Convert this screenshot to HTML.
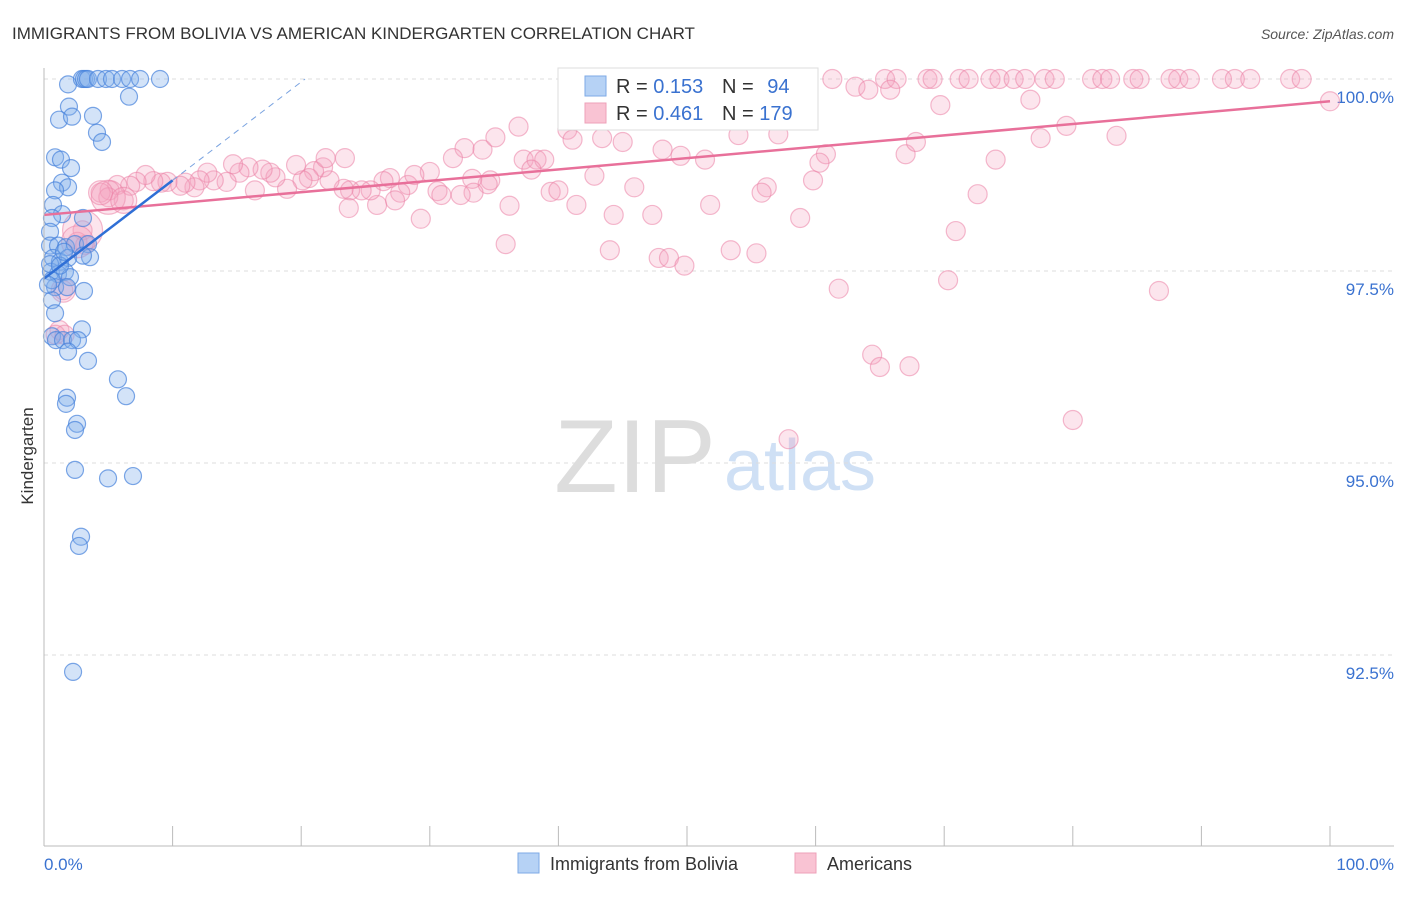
<!DOCTYPE html>
<html><head><meta charset="utf-8"><style>
body{margin:0;background:#fff;font-family:"Liberation Sans",sans-serif;}
svg text{font-family:"Liberation Sans",sans-serif;}
</style></head><body>
<svg id="chart" width="1406" height="892" viewBox="0 0 1406 892">
<text x="12" y="39" font-size="17" fill="#333">IMMIGRANTS FROM BOLIVIA VS AMERICAN KINDERGARTEN CORRELATION CHART</text>
<text x="1394" y="39" font-size="14" fill="#555" font-style="italic" text-anchor="end">Source: ZipAtlas.com</text>
<text x="33" y="456" font-size="17" fill="#333" transform="rotate(-90 33 456)" text-anchor="middle">Kindergarten</text>
<g>
<text x="635" y="492" font-size="104" fill="#ddd" font-family="Liberation Serif,serif" text-anchor="middle">ZIP</text>
<text x="800" y="490" font-size="72" fill="#cfe0f5" text-anchor="middle">atlas</text>
</g>
<g id="grid"></g>
<g id="pts"></g>
<g id="lines"></g>
<line x1="44" y1="68" x2="44" y2="846" stroke="#bbb"/>
<line x1="44" y1="846" x2="1394" y2="846" stroke="#bbb"/>
<g id="ticks"></g>
<text x="44" y="870" font-size="17" fill="#3a72d0">0.0%</text>
<text x="1394" y="870" font-size="17" fill="#3a72d0" text-anchor="end">100.0%</text>
<g>
<rect x="558" y="68" width="260" height="62" fill="#fff" stroke="#ddd"/>
<rect x="585" y="76" width="21" height="20" fill="#b6d2f5" stroke="#7eaae6"/>
<rect x="585" y="103" width="21" height="20" fill="#f9c3d3" stroke="#eea0b8"/>
<text x="616" y="93" font-size="20" fill="#333">R = <tspan fill="#3a72d0">0.153</tspan></text>
<text x="722" y="93" font-size="20" fill="#333">N = <tspan fill="#3a72d0" dx="8">94</tspan></text>
<text x="616" y="120" font-size="20" fill="#333">R = <tspan fill="#3a72d0">0.461</tspan></text>
<text x="722" y="120" font-size="20" fill="#333">N = <tspan fill="#3a72d0">179</tspan></text>
</g>
<g>
<rect x="518" y="853" width="21" height="20" fill="#b6d2f5" stroke="#7eaae6"/>
<text x="550" y="870" font-size="18" fill="#333">Immigrants from Bolivia</text>
<rect x="795" y="853" width="21" height="20" fill="#f9c3d3" stroke="#eea0b8"/>
<text x="827" y="870" font-size="18" fill="#333">Americans</text>
</g>
</svg>
<script>
const yTicks=[100,97.5,95,92.5];
const yTickLabels=["100.0%","97.5%","95.0%","92.5%"];
const xTicks=[0,10,20,30,40,50,60,70,80,90,100];
const blueX=[1.87,2.95,3.11,3.27,3.42,4.2,4.82,5.29,6.07,6.69,7.47,9.02,6.61,1.94,1.17,2.18,3.81,4.12,4.51,0.86,1.32,2.1,1.4,1.87,0.86,0.7,1.4,0.62,0.47,3.03,0.47,1.09,1.71,2.41,3.42,3.58,0.7,1.24,1.87,3.03,0.54,1.09,1.63,2.02,0.86,1.79,3.11,0.62,0.86,2.95,0.62,0.93,1.48,2.18,2.64,1.87,3.42,5.75,1.79,1.71,6.38,2.57,2.41,2.41,4.98,6.92,2.88,2.72,2.26,0.47,0.62,1.24,1.56,0.31];
const blueY=[99.93,100,100,100,100,100,100,100,100,100,100,100,99.77,99.64,99.47,99.51,99.52,99.30,99.18,98.98,98.95,98.84,98.65,98.59,98.55,98.36,98.24,98.19,98.01,98.19,97.83,97.83,97.81,97.85,97.85,97.68,97.67,97.62,97.67,97.70,97.49,97.46,97.49,97.42,97.29,97.29,97.24,97.12,96.95,96.74,96.65,96.60,96.60,96.60,96.60,96.45,96.33,96.09,95.85,95.77,95.87,95.51,95.43,94.91,94.80,94.83,94.04,93.92,92.28,97.59,97.38,97.57,97.75,97.32];
const pinkX=[59.3,61.3,65.4,66.3,68.7,69.1,71.2,71.9,73.6,74.3,75.4,76.3,77.8,78.6,81.5,82.3,82.9,84.7,85.2,87.6,88.2,89.1,91.6,92.6,93.8,96.9,97.8,
100.0,63.1,64.1,65.8,76.7,69.7,52.3,79.5,83.4,77.5,40.7,41.1,43.4,45.0,57.1,54.0,52.6,48.1,49.5,51.4,32.7,34.1,35.1,36.9,31.8,37.3,38.3,38.9,60.8,60.3,67.0,67.8,74.0,59.8,56.2,55.8,72.6,39.4,40.0,41.4,45.9,42.8,37.9,34.7,34.5,33.3,33.4,32.4,30.6,30.9,30.0,28.3,27.7,26.9,26.4,25.9,25.4,24.7,23.8,23.3,22.2,21.7,21.0,20.6,20.1,19.6,18.9,18.0,17.6,17.0,16.4,15.9,15.2,14.7,14.2,13.2,12.7,12.1,11.7,11.0,10.6,9.6,9.1,8.5,7.9,7.2,6.7,5.7,5.1,4.4,6.2,5.0,21.9,23.4,36.2,44.3,47.3,51.8,58.8,70.9,44.0,35.9,47.8,48.6,49.8,53.4,55.4,29.3,23.7,61.8,70.3,86.7,64.4,65.0,67.3,80.0,57.9,3.0,2.6,1.5,1.2,0.9,1.6,3.2,27.3,28.8,56.5,55.1];
const pinkY=[100,100,100,100,100,100,100,100,100,100,100,100,100,100,100,100,100,100,100,100,100,100,100,100,100,100,100,
99.71,99.90,99.86,99.86,99.73,99.66,99.69,99.39,99.26,99.23,99.34,99.21,99.23,99.18,99.28,99.27,99.53,99.08,99.00,98.95,99.10,99.08,99.24,99.38,98.97,98.95,98.95,98.95,99.02,98.91,99.02,99.18,98.95,98.68,98.59,98.52,98.50,98.53,98.55,98.36,98.59,98.74,98.82,98.68,98.63,98.70,98.52,98.49,98.54,98.49,98.79,98.62,98.52,98.71,98.67,98.36,98.55,98.55,98.55,98.57,98.68,98.85,98.80,98.71,98.68,98.88,98.57,98.72,98.78,98.82,98.55,98.85,98.78,98.89,98.66,98.68,98.78,98.68,98.59,98.65,98.61,98.66,98.65,98.67,98.75,98.66,98.61,98.62,98.55,98.52,98.42,98.46,98.97,98.97,98.35,98.23,98.23,98.36,98.19,98.02,97.77,97.85,97.67,97.67,97.57,97.77,97.73,98.18,98.32,97.27,97.38,97.24,96.41,96.25,96.26,95.56,95.31,98.03,97.88,97.25,96.73,96.67,96.67,97.84,98.42,98.75,99.69,99.53];
const pinkBig=[[5.0,98.46,17],[3.0,98.03,20],[2.6,97.88,16],[6.2,98.42,13],[4.4,98.52,12],[1.5,97.25,12]];
const blueTrend=[[0,97.4],[10,98.68]];
const blueTrendExt=[[10,98.68],[20.3,100]];
const pinkTrend=[[0,98.23],[100,99.71]];
const NS='http://www.w3.org/2000/svg';
const xs=v=>44+v*12.86;
const ys=v=>79+(100-v)*76.8;
const grid=document.getElementById('grid'),pts=document.getElementById('pts'),lines=document.getElementById('lines'),ticks=document.getElementById('ticks');
function mk(tag,attrs,parent){const e=document.createElementNS(NS,tag);for(const k in attrs)e.setAttribute(k,attrs[k]);parent.appendChild(e);return e;}
yTicks.forEach((t,i)=>{
 const l=mk('line',{x1:44,x2:1394,y1:ys(t),y2:ys(t),stroke:'#ddd','stroke-dasharray':'4,4'},grid);
 
 
 const tx=mk('text',{x:1394,y:ys(t)+24,'font-size':17,fill:'#3a72d0','text-anchor':'end'},grid);
 tx.textContent=yTickLabels[i];
 
 
});
xTicks.forEach(t=>{
 const l=mk('line',{x1:xs(t),x2:xs(t),y1:826,y2:846,stroke:'#bbb'},ticks);
 
 
});
pinkX.forEach((x,i)=>{
 const c=mk('circle',{cx:xs(x),cy:ys(pinkY[i]),r:9.5,fill:'rgba(245,160,190,0.28)',stroke:'rgba(235,130,165,0.55)','stroke-width':1.2},pts);
 
 
});
pinkBig.forEach(p=>{
 const c=mk('circle',{cx:xs(p[0]),cy:ys(p[1]),r:p[2],fill:'rgba(245,160,190,0.28)',stroke:'rgba(235,130,165,0.55)','stroke-width':1.2},pts);
 
 
});
blueX.forEach((x,i)=>{
 const c=mk('circle',{cx:xs(x),cy:ys(blueY[i]),r:8.5,fill:'rgba(130,175,235,0.35)',stroke:'rgba(70,130,220,0.7)','stroke-width':1.2},pts);
 
 
});
const pl=mk('line',{x1:xs(pinkTrend[0][0]),y1:ys(pinkTrend[0][1]),x2:xs(pinkTrend[1][0]),y2:ys(pinkTrend[1][1]),stroke:'#e8709a','stroke-width':2.5},lines);


const bl=mk('line',{x1:xs(blueTrend[0][0]),y1:ys(blueTrend[0][1]),x2:xs(blueTrend[1][0]),y2:ys(blueTrend[1][1]),stroke:'#2f6fd6','stroke-width':2.5},lines);


const bd=mk('line',{x1:xs(blueTrendExt[0][0]),y1:ys(blueTrendExt[0][1]),x2:xs(blueTrendExt[1][0]),y2:ys(blueTrendExt[1][1]),stroke:'#7aa3e0','stroke-width':1,'stroke-dasharray':'6,5'},lines);


</script>
</body></html>
